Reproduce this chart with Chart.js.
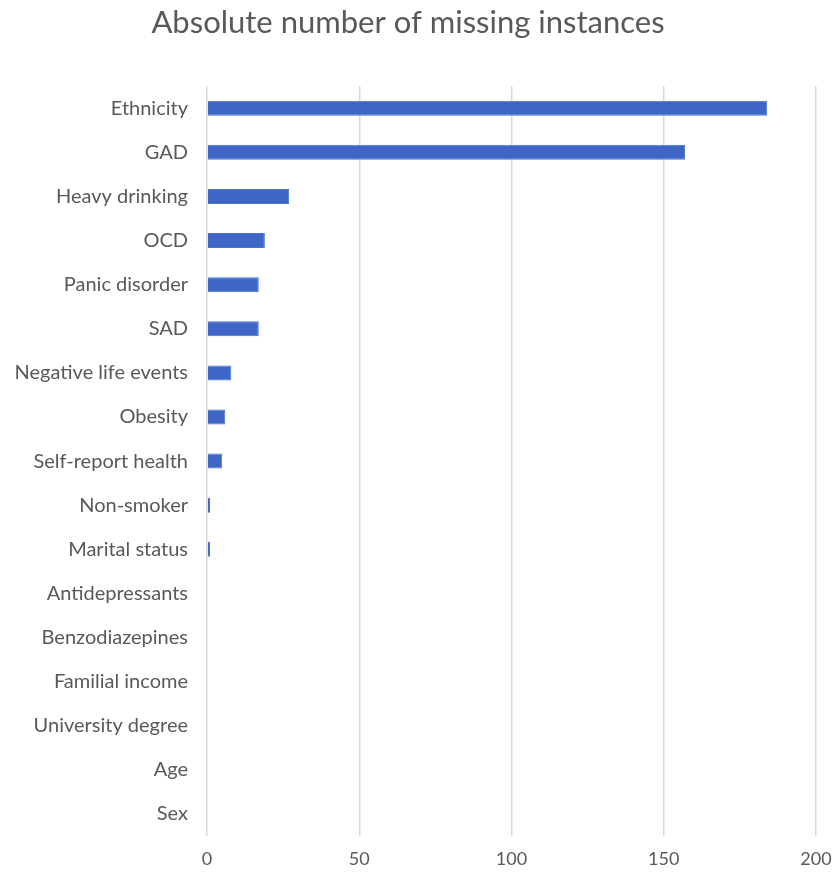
<!DOCTYPE html>
<html>
<head>
<meta charset="utf-8">
<script src="https://cdn.jsdelivr.net/npm/chart.js@4/dist/chart.umd.min.js"></script>
<style>
  html, body { margin: 0; padding: 0; background: #fff; }
  #wrap { width: 833px; height: 878px; }
</style>
</head>
<body>
<div id="wrap"><canvas id="myChart"></canvas></div>
<script>
// variables y cantidad de datos faltantes
const labels_n = [
	"Ethnicity", "GAD", "Heavy drinking", "OCD", "Panic disorder", "SAD",
	"Negative life events", "Obesity", "Self-report health", "Non-smoker",
	"Marital status", "Antidepressants", "Benzodiazepines", "Familial income",
	"University degree", "Age", "Sex"
];
const data_n = [184, 157, 27, 19, 17, 17, 8, 6, 5, 1, 1, 0, 0, 0, 0, 0, 0];
const ticks_x = [0, 50, 100, 150, 200];

const gris = "#595959";
const fuente = "Lato, 'Open Sans', sans-serif";

const ctx = document.getElementById("myChart").getContext("2d");
let myChart = new Chart(ctx, {
	type: "bar",
	data: {
		labels: labels_n,
		datasets: [
			{
				label: "Missing",
				data: data_n,
				backgroundColor: "#3d66c6",
				borderColor: "#4a72d0",
				borderWidth: 1,
				barPercentage: 0.34,
				categoryPercentage: 1,
			},
		],
	},
	options: {
		indexAxis: "y",
		responsive: true,
		maintainAspectRatio: false,
		animation: false,
		layout: {
			padding: { top: 0, right: 17, bottom: 0, left: 0 },
		},
		plugins: {
			legend: { display: false },
			tooltip: { enabled: false },
			title: {
				display: true,
				text: "Absolute number of missing instances",
				color: gris,
				font: { family: fuente, size: 31, weight: "normal" },
				padding: { top: 4, bottom: 45 },
			},
		},
		scales: {
			x: {
				min: 0,
				max: 200,
				afterBuildTicks: (axis) => {
					axis.ticks = ticks_x.map((v) => ({ value: v }));
				},
				afterFit: (axis) => {
					axis.height = 42;
					axis.paddingRight = 0;
				},
				grid: {
					color: "#d9d9d9",
					lineWidth: 1.5,
					drawTicks: false,
				},
				border: { display: false },
				ticks: {
					color: gris,
					padding: 12,
					font: { family: fuente, size: 18 },
				},
			},
			y: {
				afterFit: (axis) => {
					axis.width = 207;
				},
				grid: { display: false, drawTicks: false },
				border: { display: false },
				ticks: {
					color: gris,
					padding: 19,
					autoSkip: false,
					font: { family: fuente, size: 20 },
				},
			},
		},
	},
});
</script>
</body>
</html>
